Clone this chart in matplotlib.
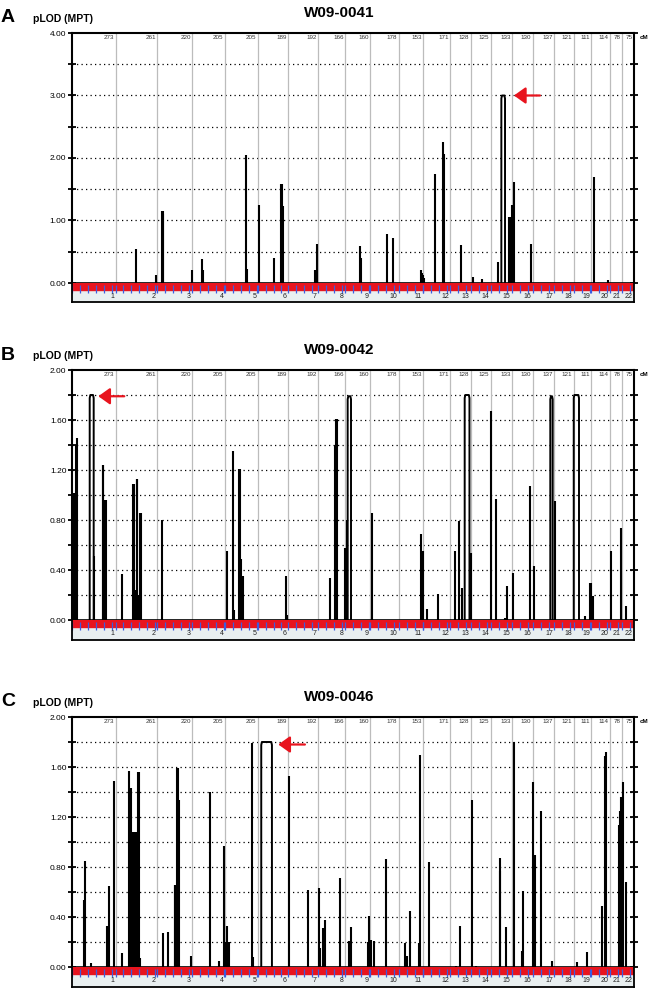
import matplotlib
matplotlib.use('Agg')
import matplotlib.pyplot as plt
import matplotlib.transforms as mtransforms
from matplotlib.ticker import MultipleLocator, FormatStrFormatter
import numpy as np

plt.rcParams['font.family'] = ['Liberation Sans', 'DejaVu Sans']

# chromosome genetic lengths (cM), chr1..chr22
chrom_cm = [273, 261, 220, 205, 205, 189, 192, 166, 160, 178, 153, 171,
            128, 125, 133, 130, 137, 121, 111, 114, 78, 75]
chrom_names = [str(i) for i in range(1, 23)]

# panel A - W09-0041 (genome position in cM, pLOD)
a_pos = [400, 529, 564, 569, 573, 751, 815, 823, 1091, 1099, 1173, 1269,
         1311, 1316, 1321, 1526, 1535, 1806, 1813, 1976, 2013, 2187, 2193,
         2200, 2210, 2275, 2327, 2335, 2442, 2513, 2572, 2672, 2743, 2750,
         2758, 2764, 2770, 2881, 3272, 3360]
a_lod = [0.55, 0.12, 1.15, 1.15, 1.11, 0.21, 0.38, 0.20, 2.05, 0.23, 1.24,
         0.40, 1.58, 1.58, 1.23, 0.20, 0.62, 0.59, 0.40, 0.79, 0.72, 0.21,
         0.16, 0.12, 0.08, 1.75, 2.25, 2.07, 0.60, 0.10, 0.07, 0.33, 1.06,
         1.06, 1.24, 1.24, 1.62, 0.62, 1.69, 0.04]
a_caps = [(2693, 2716, 3.00)]
a_arrow = [2772, 2935, 3.00]

# panel B - W09-0042
b_pos = [2, 8, 14, 20, 26, 31, 140, 193, 197, 201, 205, 210, 214, 316,
         381, 386, 391, 396, 401, 405, 410, 415, 420, 426, 431, 565, 970,
         1008, 1016, 1047, 1051, 1056, 1061, 1067, 1072, 1342, 1350, 1620,
         1648, 1653, 1658, 1662, 1714, 1723, 1884, 2187, 2200, 2227, 2294,
         2404, 2425, 2444, 2503, 2626, 2658, 2714, 2728, 2768, 2871, 2896,
         3029, 3216, 3249, 3254, 3266, 3381, 3443, 3475]
b_lod = [1.02, 1.02, 1.02, 1.02, 1.40, 1.46, 0.51, 1.24, 1.24, 0.96, 0.96,
         0.96, 0.96, 0.37, 1.09, 1.09, 0.24, 0.24, 0.24, 1.13, 1.13, 0.20,
         0.20, 0.86, 0.86, 0.80, 0.55, 1.35, 0.08, 1.21, 1.21, 0.49, 0.49,
         0.35, 0.35, 0.35, 0.04, 0.34, 1.40, 1.40, 1.61, 1.61, 0.58, 0.80,
         0.86, 0.69, 0.55, 0.09, 0.21, 0.55, 0.79, 0.26, 0.54, 1.67, 0.97,
         0.02, 0.27, 0.38, 1.07, 0.43, 0.95, 0.03, 0.30, 0.30, 0.19, 0.55,
         0.74, 0.11]
b_caps = [(111, 136, 1.80), (1729, 1750, 1.79), (2463, 2493, 1.80),
          (3000, 3015, 1.79), (3147, 3180, 1.80)]
b_arrow = [165, 328, 1.79]

# panel C - W09-0046
c_pos = [73, 81, 117, 218, 230, 265, 314, 359, 365, 371, 377, 383, 389,
         395, 402, 408, 415, 421, 428, 571, 600, 643, 648, 653, 658, 663,
         668, 746, 866, 924, 952, 965, 974, 983, 1127, 1133, 1359, 1480,
         1549, 1558, 1574, 1580, 1587, 1683, 1739, 1750, 1855, 1865, 1875,
         1892, 1969, 2087, 2101, 2122, 2175, 2185, 2239, 2409, 2434, 2509,
         2532, 2683, 2686, 2724, 2770, 2821, 2829, 2893, 2904, 2944, 3011,
         3166, 3228, 3324, 3343, 3351, 3431, 3437, 3443, 3454, 3477]
c_lod = [0.54, 0.845, 0.03, 0.33, 0.645, 1.49, 0.11, 1.57, 1.43, 1.43,
         1.08, 1.08, 1.08, 1.08, 1.08, 1.08, 1.56, 1.56, 0.07, 0.27, 0.28,
         0.66, 0.66, 0.66, 1.59, 1.59, 1.34, 0.09, 1.40, 0.05, 0.965, 0.20,
         0.33, 0.20, 1.795, 0.08, 1.525, 0.62, 0.635, 0.15, 0.31, 0.31,
         0.38, 0.71, 0.21, 0.32, 0.20, 0.405, 0.22, 0.21, 0.864, 0.19, 0.09,
         0.45, 0.19, 1.70, 0.84, 0.01, 0.33, 1.34, 0.01, 0.77, 0.87, 0.32,
         1.80, 0.13, 0.61, 1.48, 0.90, 1.25, 0.05, 0.04, 0.12, 0.49, 1.685,
         1.72, 1.14, 1.25, 1.36, 1.48, 0.68]
c_caps = [(1187, 1254, 1.80)]
c_arrow = [1294, 1461, 1.78]

W, H = 648, 988
RED = '#e8141e'
chrom_end = np.cumsum(chrom_cm)
chrom_start = chrom_end - np.array(chrom_cm)
total = chrom_end[-1]

fig = plt.figure(figsize=(W / 100, H / 100), dpi=100)


def rect(left, top, right, bottom):
    return [left / W, 1 - bottom / H, (right - left) / W, (bottom - top) / H]


def draw_panel(top, letter, title, ymax, major, minor, pos, lod, caps, arrow):
    left, right = 72, 634
    zero = top + 250
    ax = fig.add_axes(rect(left, top, right, zero))
    ax.set_xlim(0, total)
    ax.set_ylim(0, ymax)

    # horizontal dotted grid + chromosome boundaries
    for v in np.arange(minor, ymax, minor):
        ax.axhline(v, color='k', lw=0.9, ls=(0, (1, 2.6)), zorder=1)
    for e in chrom_end[:-1]:
        ax.axvline(e, color='#bcbcbc', lw=0.9, zorder=1)

    ax.vlines(pos, 0, lod, color='k', lw=1.5, zorder=3)
    for s, e, h in caps:
        r = ymax * 0.012
        ax.plot([s, s, s + 4, e - 4, e, e], [0, h - r, h, h, h - r, 0],
                color='k', lw=1.4, zorder=3, solid_joinstyle='round')

    tip, tail, ya = arrow
    ax.annotate('', xy=(tip, ya), xytext=(tail, ya),
                arrowprops=dict(arrowstyle='-|>,head_length=0.7,head_width=0.5',
                                color=RED, lw=1.6, mutation_scale=10,
                                shrinkA=0, shrinkB=0), zorder=5)

    for sp in ['left', 'top', 'right']:
        ax.spines[sp].set_linewidth(1.5)
    ax.spines['bottom'].set_linewidth(1.2)
    ax.yaxis.set_major_locator(MultipleLocator(major))
    ax.yaxis.set_minor_locator(MultipleLocator(minor))
    ax.yaxis.set_major_formatter(FormatStrFormatter('%.2f'))
    ax.tick_params(axis='y', which='both', direction='inout', length=6,
                   width=1.3, left=True, right=True, labelsize=6, pad=1)
    ax.set_xticks([])

    # cM lengths along the top
    trans = mtransforms.blended_transform_factory(ax.transData, ax.transAxes)
    for e, cm in zip(chrom_end, chrom_cm):
        ax.text(e - 8, 1 - 4.5 / 250, str(cm), transform=trans, ha='right',
                va='center', fontsize=4.5, color='#333333')
    fig.text(640 / W, 1 - (top + 4.5) / H, 'cM', fontsize=4.5,
             fontweight='bold', va='center', ha='left')

    # marker strip with chromosome numbers
    sx = fig.add_axes(rect(left, zero, right, zero + 19.5))
    sx.set_xlim(0, total)
    sx.set_ylim(0, 1)
    sx.set_facecolor('#e9eff0')
    sx.axhspan(0.63, 1, color=RED, zorder=1)
    ticks = [s + k for s, c in zip(chrom_start, chrom_cm)
             for k in range(0, c, 50)]
    sx.vlines(ticks, 0.48, 0.92, color='#3a5ce0', lw=0.9, zorder=2)
    for e, n in zip(chrom_end, chrom_names):
        sx.text(e - 9, 0.33, n, ha='right', va='center', fontsize=5,
                color='#222222')
    for sp in sx.spines.values():
        sp.set_linewidth(1.3)
    sx.spines['top'].set_visible(False)
    sx.set_xticks([])
    sx.set_yticks([])

    fig.text(1 / W, 1 - (top - 15) / H, letter, fontsize=14,
             fontweight='bold', va='center', ha='left')
    fig.text(33 / W, 1 - (top - 14) / H, 'pLOD (MPT)', fontsize=7.5,
             fontweight='bold', va='center', ha='left')
    fig.text(339 / W, 1 - (top - 20) / H, title, fontsize=11,
             fontweight='bold', va='center', ha='center')


draw_panel(33, 'A', 'W09-0041', 4.0, 1.0, 0.5, a_pos, a_lod, a_caps, a_arrow)
draw_panel(370, 'B', 'W09-0042', 2.0, 0.4, 0.2, b_pos, b_lod, b_caps, b_arrow)
draw_panel(717, 'C', 'W09-0046', 2.0, 0.4, 0.2, c_pos, c_lod, c_caps, c_arrow)

fig.savefig('out.png', dpi=100)
